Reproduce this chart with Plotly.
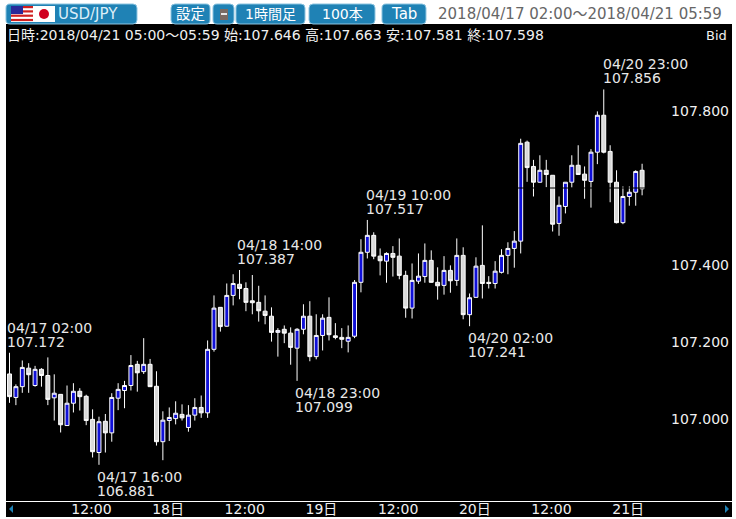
import pandas as pd
import plotly.graph_objects as go

W, H = 736, 519
START = "2018-04-17 02:00"

opens = [107.117,107.056,107.084,107.132,107.087,107.129,107.113,107.055,107.064,106.983,107.041,107.072,107.059,106.999,106.913,106.994,106.964,107.054,107.074,107.087,
107.142,107.123,107.142,107.085,106.941,106.996,107.001,107.012,106.978,107.010,107.030,107.016,107.181,107.290,107.241,107.321,107.350,107.339,107.307,107.303,
107.280,107.267,107.225,107.233,107.223,107.184,107.233,107.267,107.162,107.217,107.264,107.216,107.212,107.202,107.215,107.355,107.433,107.477,107.423,107.410,
107.430,107.423,107.373,107.288,107.358,107.370,107.412,107.355,107.347,107.386,107.360,107.425,107.271,107.316,107.399,107.355,107.352,107.381,107.425,107.443,
107.462,107.719,107.656,107.615,107.646,107.633,107.508,107.552,107.615,107.659,107.636,107.617,107.693,107.789,107.695,107.615,107.510,107.578,107.589,107.646]
highs = [107.172,107.090,107.152,107.145,107.138,107.132,107.160,107.116,107.064,107.087,107.093,107.080,107.063,107.025,107.006,107.013,107.067,107.093,107.099,107.166,
107.151,107.210,107.156,107.124,107.020,107.030,107.046,107.038,107.036,107.054,107.061,107.204,107.321,107.290,107.352,107.376,107.387,107.355,107.374,107.346,
107.321,107.290,107.236,107.243,107.238,107.236,107.298,107.306,107.272,107.272,107.316,107.249,107.236,107.243,107.361,107.467,107.517,107.485,107.443,107.433,
107.449,107.469,107.385,107.404,107.430,107.456,107.438,107.394,107.423,107.399,107.469,107.446,107.326,107.420,107.503,107.371,107.410,107.441,107.459,107.488,
107.728,107.723,107.673,107.685,107.673,107.633,107.578,107.615,107.685,107.711,107.656,107.701,107.799,107.856,107.711,107.646,107.604,107.604,107.646,107.663]
lows = [107.042,107.036,107.068,107.068,107.084,107.084,107.036,106.996,106.965,106.983,107.017,107.022,106.984,106.900,106.881,106.913,106.941,107.023,107.028,107.074,
107.071,107.117,107.084,106.931,106.893,106.943,106.986,106.996,106.967,106.996,107.003,107.003,107.175,107.227,107.240,107.295,107.311,107.280,107.272,107.253,
107.246,107.201,107.162,107.197,107.141,107.099,107.220,107.150,107.155,107.178,107.204,107.207,107.184,107.173,107.210,107.329,107.417,107.415,107.373,107.354,
107.370,107.363,107.263,107.261,107.351,107.354,107.354,107.310,107.323,107.328,107.346,107.259,107.241,107.315,107.313,107.339,107.339,107.378,107.376,107.393,
107.430,107.616,107.578,107.614,107.602,107.487,107.476,107.534,107.601,107.635,107.572,107.549,107.662,107.690,107.563,107.508,107.506,107.554,107.554,107.581]
closes = [107.058,107.084,107.134,107.115,107.129,107.113,107.051,107.067,106.985,107.041,107.072,107.058,106.996,106.915,106.993,106.964,107.056,107.077,107.087,107.139,
107.120,107.142,107.084,106.941,106.997,107.004,107.015,107.003,107.010,107.030,107.016,107.181,107.288,107.240,107.321,107.352,107.339,107.303,107.302,107.281,
107.269,107.225,107.230,107.223,107.186,107.233,107.267,107.162,107.217,107.262,107.219,107.212,107.207,107.212,107.355,107.433,107.477,107.423,107.411,107.430,
107.420,107.373,107.288,107.360,107.371,107.412,107.355,107.346,107.386,107.359,107.425,107.271,107.315,107.397,107.352,107.352,107.384,107.425,107.443,107.462,
107.716,107.653,107.615,107.646,107.635,107.506,107.555,107.615,107.659,107.635,107.620,107.693,107.789,107.693,107.615,107.510,107.578,107.589,107.643,107.598]

peak_times = ["04/17 02:00","04/17 16:00","04/18 14:00","04/18 23:00","04/19 10:00","04/20 02:00","04/20 23:00"]
peak_prices = ["107.172","106.881","107.387","107.099","107.517","107.241","107.856"]
y_ticks = [107.0, 107.2, 107.4, 107.8]
y_tick_labels = ["107.000", "107.200", "107.400", "107.800"]
x_ticks = ["2018-04-17 12:00","2018-04-18 00:00","2018-04-18 12:00","2018-04-19 00:00",
           "2018-04-19 12:00","2018-04-20 00:00","2018-04-20 12:00","2018-04-21 00:00"]
x_tick_labels = ["12:00","18日","12:00","19日","12:00","20日","12:00","21日"]
header = "日時:2018/04/21 05:00～05:59 始:107.646 高:107.663 安:107.581 終:107.598"
period = "2018/04/17 02:00～2018/04/21 05:59"

FONT = "DejaVu Sans, Noto Sans CJK JP"
BTN = "#1f82b5"

times = pd.date_range(START, periods=len(closes), freq="h")
def px(x): return x / W
def py(y): return 1 - y / H

x_range = [times[0] - pd.Timedelta(hours=0.55), times[0] + pd.Timedelta(hours=113.07)]
y_range = [107 - 82 / 385, 107 + 395 / 385]

fig = go.Figure(go.Candlestick(
    x=times, open=opens, high=highs, low=lows, close=closes,
    increasing=dict(line=dict(color="#ffffff", width=1), fillcolor="#1010d8"),
    decreasing=dict(line=dict(color="#ffffff", width=1), fillcolor="#d9d9d9"),
    whiskerwidth=0, showlegend=False))

shapes = []
def rect(x0, y0, x1, y1, color, layer="above"):
    shapes.append(dict(type="rect", xref="paper", yref="paper", x0=px(x0), x1=px(x1),
                       y0=py(y1), y1=py(y0), fillcolor=color, line=dict(width=0), layer=layer))
def button(x0, y0, x1, y1, r=4):
    f = lambda a, b: f"{px(a):.5f},{py(b):.5f}"
    path = (f"M{f(x0+r,y0)} L{f(x1-r,y0)} Q{f(x1,y0)} {f(x1,y0+r)} L{f(x1,y1-r)} Q{f(x1,y1)} {f(x1-r,y1)} "
            f"L{f(x0+r,y1)} Q{f(x0,y1)} {f(x0,y1-r)} L{f(x0,y0+r)} Q{f(x0,y0)} {f(x0+r,y0)} Z")
    shapes.append(dict(type="path", xref="paper", yref="paper", path=path, fillcolor=BTN,
                       line=dict(color="#8cc4e0", width=1), layer="above"))
def tri(pts, color):
    path = "M" + " L".join(f"{px(a):.5f},{py(b):.5f}" for a, b in pts) + " Z"
    shapes.append(dict(type="path", xref="paper", yref="paper", path=path, fillcolor=color,
                       line=dict(width=0), layer="above"))

rect(6, 24, 732, 517, "#000000", layer="below")
for b in [(6,4,137,24),(171,4,210,24),(213,4,234,24),(236,4,305,24),(309,4,375,24),(382,4,426,24)]:
    button(*b)
rect(11, 6, 33, 22, "#ffffff")
for i in range(4):
    rect(11, 6 + i * 4.3, 33, 8.2 + i * 4.3, "#d02020")
rect(11, 6, 23, 14, "#2a2a9a")
rect(33, 6, 55, 22, "#ffffff")
shapes.append(dict(type="circle", xref="paper", yref="paper", x0=px(39), x1=px(49), y0=py(19), y1=py(9),
                   fillcolor="#d00020", line=dict(width=0), layer="above"))
rect(220, 9, 228, 20, "#7a6a62")
rect(221, 13, 227, 15, "#e8e8e8")
tri([(13,505),(13,513),(9,509)], BTN)
tri([(725,505),(725,513),(729,509)], BTN)
shapes.append(dict(type="line", xref="paper", yref="y", x0=px(6), x1=px(732), y0=107.6, y1=107.6,
                   line=dict(color="#000000", width=1), layer="above"))

ann = []
def text(x, y, s, size=14, color="#ffffff", anchor="left"):
    ann.append(dict(xref="paper", yref="paper", x=px(x), y=py(y), text=s, showarrow=False,
                    xanchor=anchor, yanchor="middle", align="left", borderpad=0, borderwidth=0,
                    font=dict(family=FONT, size=size, color=color)))
text(7, 35, header, size=14, color="#f0f0f0")
text(727, 36, "Bid", size=13, color="#f0f0f0", anchor="right")
text(58, 14, "USD/JPY", size=15, color="#dceef8")
text(190.5, 14, "設定", size=14.5, anchor="center")
text(270.5, 14, "1時間足", size=14, anchor="center")
text(342, 14, "100本", size=14, anchor="center")
text(404, 14, "Tab", size=15, anchor="center")
text(438, 14, period, size=15, color="#666666")
for (x, y), a, b in zip([(7,328),(97,477),(237,245),(295,393),(366,195),(468,338),(603,64)], peak_times, peak_prices):
    text(x, y, a, color="#e8e8e8")
    text(x, y + 14, b, color="#e8e8e8")

fig.update_layout(
    width=W, height=H, autosize=False, margin=dict(l=0, r=0, t=0, b=0, pad=0), boxgap=0.12,
    paper_bgcolor="#ffffff", plot_bgcolor="#000000", font=dict(family=FONT, size=14, color="#ffffff"),
    shapes=shapes, annotations=ann, showlegend=False,
    xaxis=dict(domain=[px(6), px(732)], range=x_range, type="date", rangeslider=dict(visible=False),
               tickmode="array", tickvals=x_ticks, ticktext=x_tick_labels, ticklabelshift=18, ticklabelstandoff=-5,
               showgrid=False, zeroline=False, showline=True, linecolor="#ffffff", linewidth=1,
               ticks="", tickfont=dict(family=FONT, size=14, color="#f0f0f0")),
    yaxis=dict(domain=[py(501), py(24)], range=y_range, side="right", ticklabelposition="inside",
               tickmode="array", tickvals=y_ticks, ticktext=y_tick_labels, showgrid=False,
               zeroline=False, showline=False, ticks="",
               tickfont=dict(family=FONT, size=14, color="#f0f0f0")),
)
fig.write_html("out.html", config=dict(displayModeBar=False),
               post_script="document.documentElement.style.cssText='margin:0;height:519px;overflow:hidden';"
                           "document.body.style.cssText='margin:0;height:519px;overflow:hidden';")
